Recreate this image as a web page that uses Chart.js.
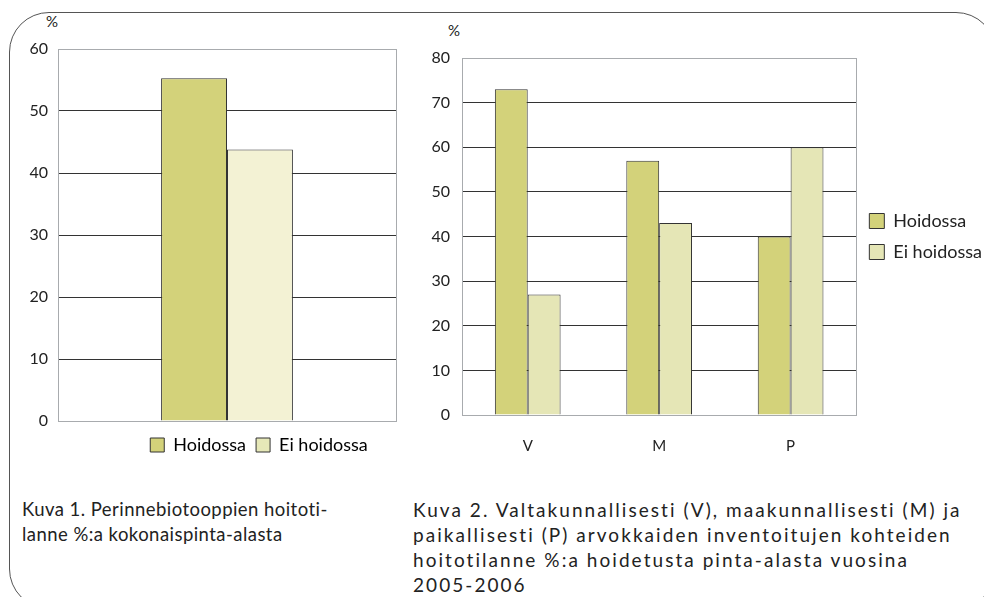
<!DOCTYPE html>
<html>
<head>
<meta charset="utf-8">
<script src="https://cdn.jsdelivr.net/npm/chart.js@4.4.1/dist/chart.umd.min.js"></script>
<style>
    body { margin: 0; background: #fff; font-family: Lato, "Open Sans", sans-serif; color: #222; }
    #page { position: relative; width: 984px; height: 597px; overflow: hidden; }
    #frame { position: absolute; left: 9px; top: 12px; width: 985px; height: 595px; border: 1px solid #555; border-radius: 40px; }
    .wrap { position: absolute; }
    .pct { position: absolute; font-size: 15px; }
    .caption { position: absolute; font-size: 18.5px; line-height: 25px; color: #222; white-space: nowrap; }
</style>
</head>
<body>
<div id="page">
    <div id="frame"></div>
    <div class="pct" style="left:46px; top:12px;">%</div>
    <div class="pct" style="left:448px; top:21px;">%</div>
    <div class="wrap" style="left:0; top:0; width:518px; height:464px;"><canvas id="chart1"></canvas></div>
    <div class="wrap" id="wrap2" style="left:400px; top:0; width:600px; height:460px;"><canvas id="chart2"></canvas></div>
    <div class="caption" style="left:22px; top:497px; letter-spacing:0.45px;">Kuva 1. Perinnebiotooppien hoitoti-<br>lanne %:a kokonaispinta-alasta</div>
    <div class="caption" style="left:413px; top:497px; font-size:19px; letter-spacing:2.05px;">Kuva 2. Valtakunnallisesti (V), maakunnallisesti (M) ja<br>paikallisesti (P) arvokkaiden inventoitujen kohteiden<br>hoitotilanne %:a hoidetusta pinta-alasta vuosina<br>2005-2006</div>
</div>
<script>
// data
const seriesNames = ["Hoidossa", "Ei hoidossa"];
const total = [55.3, 43.8];
const regions = ["V", "M", "P"];
const hoidossa = [73, 57, 40];
const eiHoidossa = [27, 43, 60];

const olive = '#d3d27a';
const paleOne = '#f3f2d4';
const paleTwo = '#e5e6b6';
const fontFam = 'Lato, "Open Sans", sans-serif';
const legendSize = 18;

function gridColor(max)
{
    return function(ctx)
    {
        if(ctx.tick.value === 0 || ctx.tick.value === max) return '#a8abae';
        return '#333';
    }
}

function yAxis(max, width, pad)
{
    return {
        min: 0,
        max: max,
        ticks: { stepSize: 10, color: '#222', padding: pad, font: { family: fontFam, size: 16 } },
        grid: { color: gridColor(max), drawTicks: false, lineWidth: 1 },
        border: { display: true, color: '#a8abae' },
        afterFit: function(s) { s.width = width; }
    };
}

function rightSpacer(width)
{
    return {
        position: 'right',
        display: true,
        ticks: { display: false },
        grid: { display: false, drawTicks: false },
        border: { display: true, color: '#a8abae' },
        afterFit: function(s) { s.width = width; }
    };
}

// chart 1
new Chart(document.getElementById('chart1'), {
    type: 'bar',
    data: {
        labels: [""],
        datasets: [
            { label: seriesNames[0], data: [total[0]], backgroundColor: olive, borderColor: '#333', borderWidth: 1 },
            { label: seriesNames[1], data: [total[1]], backgroundColor: paleOne, borderColor: '#333', borderWidth: 1 }
        ]
    },
    options: {
        responsive: true,
        maintainAspectRatio: false,
        animation: false,
        layout: { padding: { top: 49 } },
        datasets: { bar: { categoryPercentage: 0.39, barPercentage: 1 } },
        scales: {
            x: {
                ticks: { display: false },
                grid: { display: false, drawTicks: false },
                border: { display: true, color: '#a8abae' },
                afterFit: function(s) { s.height = 5; }
            },
            y: yAxis(60, 58, 10),
            y2: rightSpacer(122)
        },
        plugins: {
            tooltip: { enabled: false },
            legend: {
                position: 'bottom',
                labels: {
                    boxWidth: 14, boxHeight: 14, padding: 10, color: '#222',
                    font: { family: fontFam, size: legendSize },
                    generateLabels: function(chart)
                    {
                        return chart.data.datasets.map(function(ds, i) {
                            return { text: ds.label, fillStyle: i === 0 ? olive : '#e6e8b8', strokeStyle: '#333', lineWidth: 1, datasetIndex: i };
                        });
                    }
                }
            }
        }
    }
});

// chart 2
const chart2 = new Chart(document.getElementById('chart2'), {
    type: 'bar',
    data: {
        labels: regions,
        datasets: [
            { label: seriesNames[0], data: hoidossa, backgroundColor: olive, borderColor: '#333', borderWidth: 1 },
            { label: seriesNames[1], data: eiHoidossa, backgroundColor: paleTwo, borderColor: '#333', borderWidth: 1 }
        ]
    },
    options: {
        responsive: true,
        maintainAspectRatio: false,
        animation: false,
        layout: { padding: { top: 58 } },
        datasets: { bar: { categoryPercentage: 0.5, barPercentage: 1 } },
        scales: {
            x: {
                ticks: { color: '#222', padding: 22, font: { family: fontFam, size: 15 } },
                grid: { display: false, drawTicks: false },
                border: { display: true, color: '#a8abae' },
                afterFit: function(s) { s.height = 45; }
            },
            y: yAxis(80, 62, 12),
            y2: rightSpacer(0)
        },
        plugins: {
            tooltip: { enabled: false },
            legend: {
                position: 'right',
                fullSize: false,
                maxWidth: 300,
                labels: {
                    boxWidth: 15, boxHeight: 15, padding: 13, color: '#222',
                    font: { family: fontFam, size: legendSize }
                }
            }
        }
    }
});

// plot should end at x=856, legend right after it
const plotRight = 856;
document.getElementById('wrap2').style.width = Math.round(plotRight - 400 + chart2.legend.width) + 'px';
chart2.resize();
</script>
</body>
</html>
